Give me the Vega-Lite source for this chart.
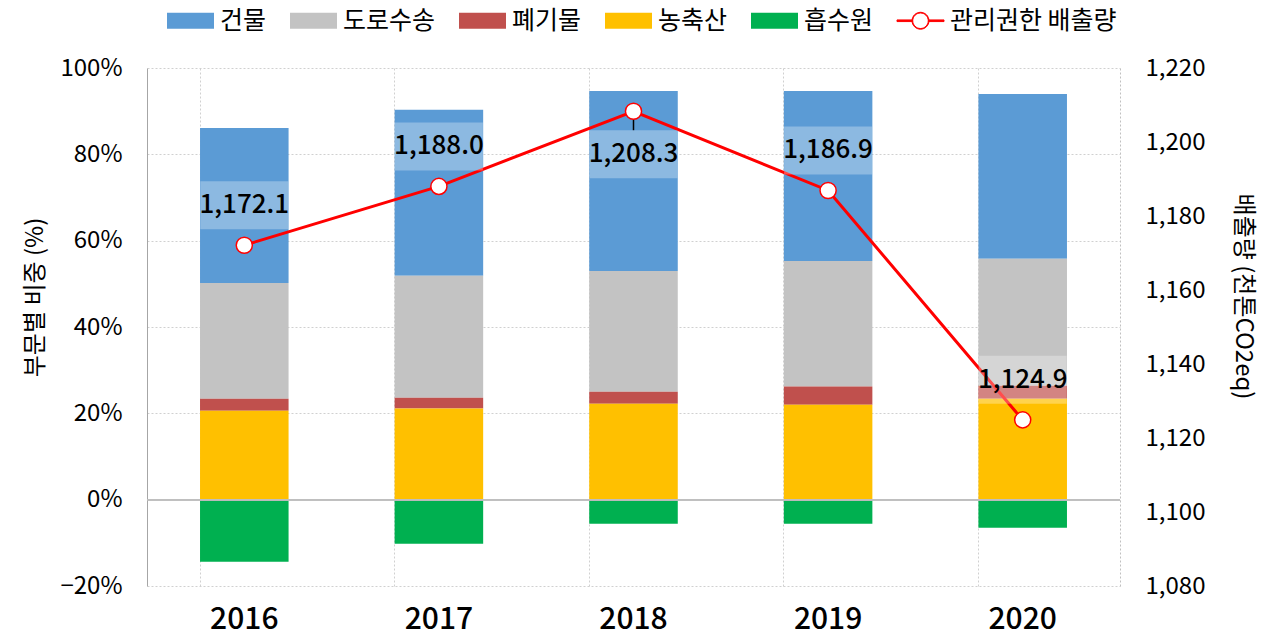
{
  "$schema": "https://vega.github.io/schema/vega-lite/v6.json",
  "width": 973,
  "height": 518,
  "autosize": "none",
  "padding": {"left": 147, "top": 68, "right": 157, "bottom": 54},
  "background": "white",
  "config": {"font": "Noto Sans CJK KR", "view": {"stroke": null}},
  "datasets": {
    "sectors": [
      {"year": "2016", "sector": "건물", "share": 35.9},
      {"year": "2016", "sector": "도로수송", "share": 26.8},
      {"year": "2016", "sector": "폐기물", "share": 2.8},
      {"year": "2016", "sector": "농축산", "share": 20.6},
      {"year": "2016", "sector": "흡수원", "share": -14.4},
      {"year": "2017", "sector": "건물", "share": 38.4},
      {"year": "2017", "sector": "도로수송", "share": 28.3},
      {"year": "2017", "sector": "폐기물", "share": 2.5},
      {"year": "2017", "sector": "농축산", "share": 21.1},
      {"year": "2017", "sector": "흡수원", "share": -10.2},
      {"year": "2018", "sector": "건물", "share": 41.7},
      {"year": "2018", "sector": "도로수송", "share": 28.0},
      {"year": "2018", "sector": "폐기물", "share": 2.8},
      {"year": "2018", "sector": "농축산", "share": 22.2},
      {"year": "2018", "sector": "흡수원", "share": -5.6},
      {"year": "2019", "sector": "건물", "share": 39.4},
      {"year": "2019", "sector": "도로수송", "share": 29.1},
      {"year": "2019", "sector": "폐기물", "share": 4.2},
      {"year": "2019", "sector": "농축산", "share": 22.0},
      {"year": "2019", "sector": "흡수원", "share": -5.6},
      {"year": "2020", "sector": "건물", "share": 38.2},
      {"year": "2020", "sector": "도로수송", "share": 29.4},
      {"year": "2020", "sector": "폐기물", "share": 3.0},
      {"year": "2020", "sector": "농축산", "share": 23.4},
      {"year": "2020", "sector": "흡수원", "share": -6.5}
    ],
    "emissions": [
      {"year": "2016", "emission": 1172.1},
      {"year": "2017", "emission": 1188.0},
      {"year": "2018", "emission": 1208.3},
      {"year": "2019", "emission": 1186.9},
      {"year": "2020", "emission": 1124.9}
    ]
  },
  "layer": [
    {
      "data": {"name": "sectors"},
      "transform": [
        {"calculate": "indexof(['흡수원','농축산','폐기물','도로수송','건물'], datum.sector)", "as": "stackOrder"}
      ],
      "layer": [
        {
          "mark": {"type": "bar"},
          "encoding": {
            "x": {
              "field": "year", "type": "nominal",
              "scale": {"paddingInner": 0.545, "paddingOuter": 0.2725},
              "axis": {
                "title": null, "labelAngle": 0, "domain": false, "ticks": false,
                "labelFontSize": 30, "labelFontWeight": 500, "labelColor": "#000000",
                "labelPadding": 18,
                "grid": true, "bandPosition": 0, "gridDash": [2, 2], "gridColor": "#d0d0d0"
              }
            },
            "y": {
              "field": "share", "type": "quantitative", "stack": "zero",
              "scale": {"domain": [-20, 100], "nice": false},
              "axis": {
                "title": "부문별 비중 (%)", "titleFontSize": 24, "titleFontWeight": "normal",
                "titleColor": "#000000", "titlePadding": 12, "titleY": 229,
                "values": [-20, 0, 20, 40, 60, 80, 100],
                "labelExpr": "(datum.value < 0 ? '−' + abs(datum.value) : datum.value) + '%'",
                "labelFontSize": 24, "labelColor": "#000000", "labelPadding": 25,
                "ticks": false, "domain": true, "domainColor": "#a6a6a6",
                "grid": true, "gridDash": [2, 2], "gridColor": "#d0d0d0"
              }
            },
            "color": {
              "field": "sector", "type": "nominal",
              "scale": {
                "domain": ["건물", "도로수송", "폐기물", "농축산", "흡수원", "관리권한 배출량"],
                "range": ["#5b9bd5", "#c3c3c3", "#c0504d", "#ffc000", "#00b050", "#ff0000"]
              },
              "legend": {
                "orient": "none", "legendX": 7, "legendY": -60,
                "direction": "horizontal", "title": null,
                "labelFontSize": 25, "labelColor": "#000000", "labelLimit": 0,
                "symbolSize": 2209, "symbolOffset": 24, "labelOffset": 17, "columnPadding": 10,
                "symbolType": "M-1,-0.34H1V0.34H-1Z",
                "encode": {
                  "symbols": {
                    "update": {
                      "shape": {"signal": "datum.value === '관리권한 배출량' ? 'M-1,-0.035H-0.36V0.035H-1ZM0.36,-0.035H1V0.035H0.36ZM0.36,0A0.36,0.36 0 1 1 -0.36,0A0.36,0.36 0 1 1 0.36,0ZM0.33,0A0.33,0.33 0 1 0 -0.33,0A0.33,0.33 0 1 0 0.33,0Z' : 'M-1,-0.34H1V0.34H-1Z'"},
                      "stroke": {"signal": "datum.value === '관리권한 배출량' ? '#ff0000' : 'transparent'"},
                      "strokeWidth": {"signal": "datum.value === '관리권한 배출량' ? 1 : 0"},
                      "opacity": {"value": 1}
                    }
                  }
                }
              }
            },
            "order": {"field": "stackOrder", "type": "quantitative"}
          }
        },
        {
          "mark": {"type": "rule", "color": "#bfbfbf", "strokeWidth": 1},
          "encoding": {"y": {"datum": 0}}
        }
      ]
    },
    {
      "data": {"name": "emissions"},
      "encoding": {
        "x": {"field": "year", "type": "nominal"},
        "y": {
          "field": "emission", "type": "quantitative",
          "scale": {"domain": [1080, 1220], "nice": false, "zero": false},
          "axis": {
            "orient": "right",
            "title": "배출량 (천톤CO2eq)", "titleFontSize": 24, "titleFontWeight": "normal",
            "titleColor": "#000000", "titlePadding": 26, "titleY": 228,
            "values": [1080, 1100, 1120, 1140, 1160, 1180, 1200, 1220],
            "format": ",d",
            "labelFontSize": 24, "labelColor": "#000000", "labelPadding": 25,
            "ticks": false, "grid": false,
            "domain": true, "domainDash": [2, 2], "domainColor": "#c0c0c0"
          }
        }
      },
      "layer": [
        {"mark": {"type": "line", "color": "#ff0000", "strokeWidth": 3}},
        {
          "transform": [{"filter": "datum.year === '2018'"}],
          "mark": {"type": "rule", "color": "#000000", "strokeWidth": 1.5, "y2Offset": 19},
          "encoding": {"y2": {"field": "emission"}}
        },
        {"mark": {"type": "point", "filled": true, "fill": "#ffffff", "stroke": "#ff0000", "strokeWidth": 1.5, "size": 260, "opacity": 1}},
        {
          "transform": [{"filter": "datum.year !== '2018'"}],
          "mark": {"type": "tick", "color": "#ffffff", "opacity": 0.3, "thickness": 48, "size": 88, "yOffset": -40}
        },
        {
          "transform": [{"filter": "datum.year === '2018'"}],
          "mark": {"type": "tick", "color": "#ffffff", "opacity": 0.3, "thickness": 48, "size": 88, "yOffset": 43}
        },
        {
          "transform": [{"filter": "datum.year !== '2018'"}],
          "mark": {"type": "text", "fontSize": 26, "fontWeight": 500, "dy": -40, "baseline": "middle", "color": "#000000"},
          "encoding": {"text": {"field": "emission", "type": "quantitative", "format": ",.1f"}}
        },
        {
          "transform": [{"filter": "datum.year === '2018'"}],
          "mark": {"type": "text", "fontSize": 26, "fontWeight": 500, "dy": 43, "baseline": "middle", "color": "#000000"},
          "encoding": {"text": {"field": "emission", "type": "quantitative", "format": ",.1f"}}
        }
      ]
    }
  ],
  "resolve": {"scale": {"y": "independent"}}
}
